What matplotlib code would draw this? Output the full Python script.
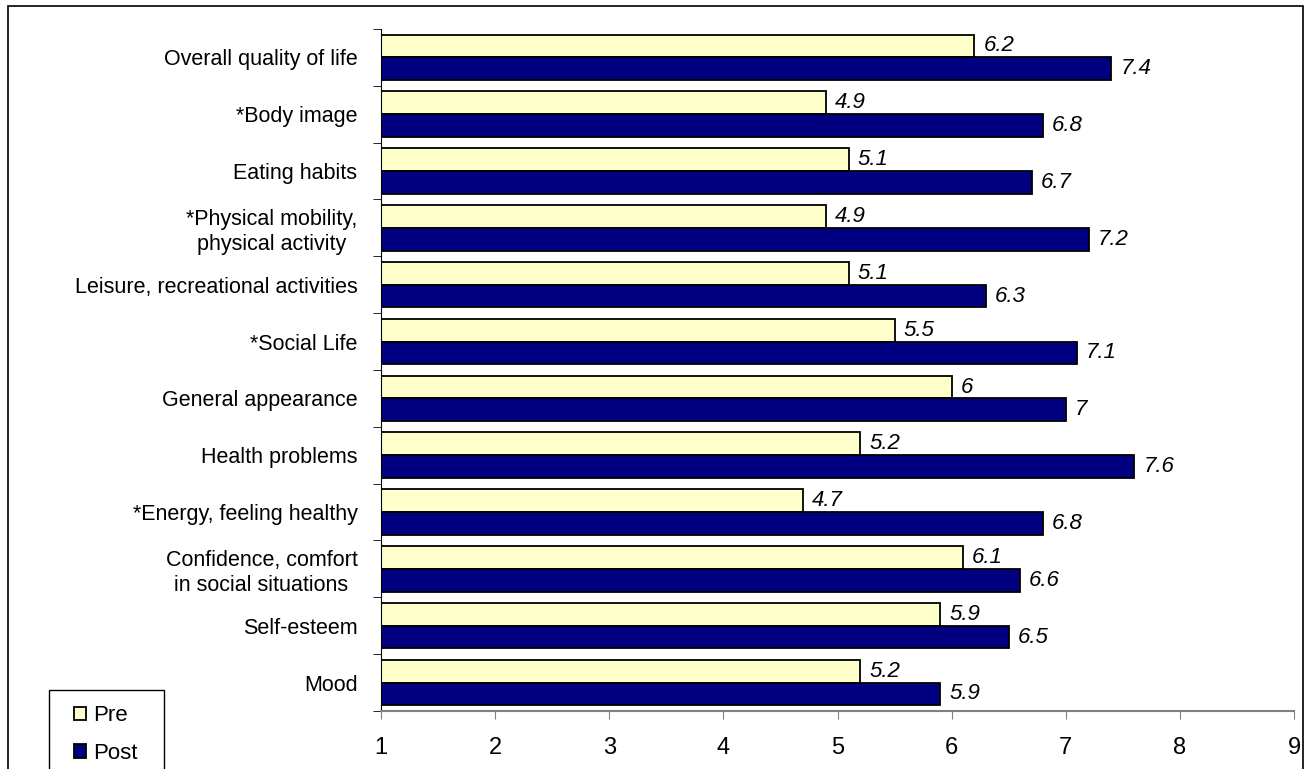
import matplotlib
matplotlib.use("Agg")
import matplotlib.pyplot as plt
import numpy as np
from matplotlib.patches import Rectangle

plt.rcParams["font.family"] = ["Liberation Sans", "DejaVu Sans"]

# categories listed bottom to top, as they appear on the axis
categories = [
    "Mood",
    "Self-esteem",
    "Confidence, comfort\nin social situations",
    "*Energy, feeling healthy",
    "Health problems",
    "General appearance",
    "*Social Life",
    "Leisure, recreational activities",
    "*Physical mobility,\nphysical activity",
    "Eating habits",
    "*Body image",
    "Overall quality of life",
]
pre_values = [5.2, 5.9, 6.1, 4.7, 5.2, 6.0, 5.5, 5.1, 4.9, 5.1, 4.9, 6.2]
post_values = [5.9, 6.5, 6.6, 6.8, 7.6, 7.0, 7.1, 6.3, 7.2, 6.7, 6.8, 7.4]
x_ticks = [1, 2, 3, 4, 5, 6, 7, 8, 9]

PRE_COLOR = "#FFFFCC"
POST_COLOR = "#000080"
BASELINE = 1
W, H = 1308, 769

fig = plt.figure(figsize=(W / 100, H / 100), dpi=100)
ax = fig.add_axes([0.2913, 0.0754, 0.698, 0.887])

y = np.arange(len(categories))
height = 0.4

pre_bars = ax.barh(y + height / 2, np.array(pre_values) - BASELINE, height, left=BASELINE,
                   color=PRE_COLOR, edgecolor="black", linewidth=1.3, label="Pre")
post_bars = ax.barh(y - height / 2, np.array(post_values) - BASELINE, height, left=BASELINE,
                    color=POST_COLOR, edgecolor="black", linewidth=1.3, label="Post")

for bars, values in ((pre_bars, pre_values), (post_bars, post_values)):
    for bar, value in zip(bars, values):
        ax.annotate(f"{value:g}", xy=(value, bar.get_y() + bar.get_height() / 2),
                    xytext=(6.5, 0), textcoords="offset points",
                    ha="left", va="center", fontsize=16, fontstyle="italic")

ax.set_xlim(1, 9)
ax.set_ylim(-0.5, len(categories) - 0.5)
ax.set_xticks(x_ticks)
ax.tick_params(axis="x", direction="out", length=6, color="#808080", labelsize=17, pad=13)

# category names centred on each group, tick marks between the groups
ax.set_yticks(y)
ax.set_yticklabels(categories, fontsize=15.5, multialignment="center")
ax.tick_params(axis="y", length=0, pad=17)
ax.set_yticks(np.arange(len(categories) + 1) - 0.5, minor=True)
ax.tick_params(axis="y", which="minor", length=6, color="black")

ax.spines["top"].set_visible(False)
ax.spines["right"].set_visible(False)
ax.spines["bottom"].set_color("#808080")
ax.spines["bottom"].set_linewidth(1.5)
ax.spines["left"].set_color("black")

# legend entries, with a separate box drawn around them
fig.legend(handles=[pre_bars, post_bars], labels=["Pre", "Post"],
           loc="upper left", bbox_to_anchor=(62 / W, 1 - 693 / H),
           fontsize=16, frameon=False,
           handlelength=0.55, handleheight=0.55, handletextpad=0.3,
           labelspacing=0.75, borderpad=0.55, borderaxespad=0)
fig.patches.append(Rectangle((49 / W, -0.05), 115 / W, 0.05 + 1 - 690 / H,
                             transform=fig.transFigure, fill=False,
                             edgecolor="black", linewidth=1.0))

# chart area border
fig.patches.append(Rectangle((8 / W, -0.05), 1295 / W, 1.05 - 6 / H,
                             transform=fig.transFigure, fill=False,
                             edgecolor="black", linewidth=1.2))

fig.savefig("out.png", dpi=100)
